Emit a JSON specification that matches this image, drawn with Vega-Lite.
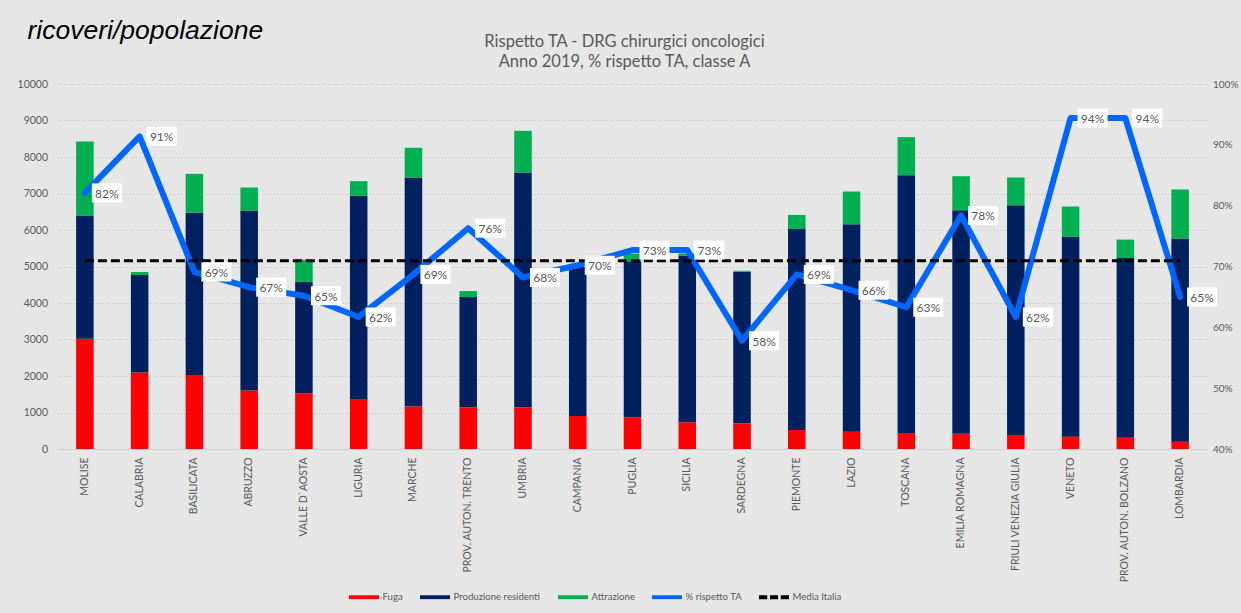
{
  "$schema": "https://vega.github.io/schema/vega-lite/v6.json",
  "width": 1150,
  "height": 365,
  "autosize": {"type": "none"},
  "padding": {"left": 57.5, "top": 84, "right": 33.5, "bottom": 164},
  "background": "#e6e6e6",
  "config": {
    "view": {"stroke": null},
    "font": "Lato",
    "axis": {"labelFont": "Lato", "labelColor": "#595959", "labelFontSize": 10.5, "ticks": false}
  },
  "datasets": {
    "regioni": [
      {"regione": "MOLISE", "Fuga": 3020, "Produzione residenti": 3375, "Attrazione": 2032, "pct": 0.821, "media": 0.7096},
      {"regione": "CALABRIA", "Fuga": 2094, "Produzione residenti": 2672, "Attrazione": 82, "pct": 0.914, "media": 0.7096},
      {"regione": "BASILICATA", "Fuga": 2030, "Produzione residenti": 4438, "Attrazione": 1070, "pct": 0.691, "media": 0.7096},
      {"regione": "ABRUZZO", "Fuga": 1600, "Produzione residenti": 4933, "Attrazione": 631, "pct": 0.666, "media": 0.7096},
      {"regione": "VALLE D`AOSTA", "Fuga": 1527, "Produzione residenti": 3046, "Attrazione": 615, "pct": 0.652, "media": 0.7096},
      {"regione": "LIGURIA", "Fuga": 1372, "Produzione residenti": 5562, "Attrazione": 403, "pct": 0.617, "media": 0.7096},
      {"regione": "MARCHE", "Fuga": 1161, "Produzione residenti": 6278, "Attrazione": 813, "pct": 0.687, "media": 0.7096},
      {"regione": "PROV. AUTON. TRENTO", "Fuga": 1142, "Produzione residenti": 3020, "Attrazione": 165, "pct": 0.763, "media": 0.7096},
      {"regione": "UMBRIA", "Fuga": 1142, "Produzione residenti": 6434, "Attrazione": 1142, "pct": 0.682, "media": 0.7096},
      {"regione": "CAMPANIA", "Fuga": 906, "Produzione residenti": 4080, "Attrazione": 30, "pct": 0.702, "media": 0.7096},
      {"regione": "PUGLIA", "Fuga": 868, "Produzione residenti": 4255, "Attrazione": 230, "pct": 0.727, "media": 0.7096},
      {"regione": "SICILIA", "Fuga": 731, "Produzione residenti": 4567, "Attrazione": 60, "pct": 0.727, "media": 0.7096},
      {"regione": "SARDEGNA", "Fuga": 703, "Produzione residenti": 4155, "Attrazione": 25, "pct": 0.578, "media": 0.7096},
      {"regione": "PIEMONTE", "Fuga": 521, "Produzione residenti": 5507, "Attrazione": 385, "pct": 0.687, "media": 0.7096},
      {"regione": "LAZIO", "Fuga": 475, "Produzione residenti": 5682, "Attrazione": 897, "pct": 0.661, "media": 0.7096},
      {"regione": "TOSCANA", "Fuga": 439, "Produzione residenti": 7063, "Attrazione": 1043, "pct": 0.633, "media": 0.7096},
      {"regione": "EMILIA ROMAGNA", "Fuga": 420, "Produzione residenti": 6121, "Attrazione": 934, "pct": 0.784, "media": 0.7096},
      {"regione": "FRIULI VENEZIA GIULIA", "Fuga": 384, "Produzione residenti": 6295, "Attrazione": 760, "pct": 0.617, "media": 0.7096},
      {"regione": "VENETO", "Fuga": 338, "Produzione residenti": 5470, "Attrazione": 835, "pct": 0.944, "media": 0.7096},
      {"regione": "PROV. AUTON. BOLZANO", "Fuga": 310, "Produzione residenti": 4922, "Attrazione": 505, "pct": 0.944, "media": 0.7096},
      {"regione": "LOMBARDIA", "Fuga": 200, "Produzione residenti": 5565, "Attrazione": 1345, "pct": 0.650, "media": 0.7096}
    ],
    "serie": [
      {"serie": "Fuga", "ordine": 1},
      {"serie": "Produzione residenti", "ordine": 2},
      {"serie": "Attrazione", "ordine": 3}
    ]
  },
  "data": {"name": "regioni"},
  "encoding": {
    "x": {
      "field": "regione",
      "type": "nominal",
      "sort": null,
      "scale": {"paddingInner": 0.68, "paddingOuter": 0.34},
      "axis": {
        "title": null,
        "labelAngle": -90,
        "labelPadding": 8,
        "labelColor": "#595959",
        "domainColor": "#cfcfcf",
        "domainWidth": 1,
        "labelFontSize": 10.5
      }
    }
  },
  "layer": [
    {
      "transform": [
        {"fold": ["Fuga", "Produzione residenti", "Attrazione"], "as": ["serie", "valore"]},
        {"lookup": "serie", "from": {"data": {"name": "serie"}, "key": "serie", "fields": ["ordine"]}}
      ],
      "mark": {"type": "bar"},
      "encoding": {
        "y": {
          "field": "valore",
          "type": "quantitative",
          "stack": "zero",
          "scale": {"domain": [0, 10000], "nice": false},
          "axis": {
            "values": [0, 1000, 2000, 3000, 4000, 5000, 6000, 7000, 8000, 9000, 10000],
            "format": "d",
            "domain": false,
            "grid": true,
            "gridColor": "#c4c4c4",
            "gridDash": [1, 2],
            "gridWidth": 1,
            "labelPadding": 10,
            "labelColor": "#595959",
            "title": "ricoveri/popolazione",
            "titleAngle": 0,
            "titleAlign": "left",
            "titleBaseline": "alphabetic",
            "titleX": -30.5,
            "titleY": -45.5,
            "titleFont": "Liberation Sans",
            "titleFontStyle": "italic",
            "titleFontWeight": "normal",
            "titleFontSize": 26.5,
            "titleColor": "#000000"
          }
        },
        "order": {"field": "ordine", "type": "quantitative", "sort": "ascending"},
        "color": {
          "field": "serie",
          "type": "nominal",
          "scale": {
            "domain": ["Fuga", "Produzione residenti", "Attrazione", "% rispetto TA", "Media Italia"],
            "range": ["#ff0000", "#002060", "#00b050", "#0066ff", "#000000"]
          },
          "legend": {
            "title": null,
            "orient": "none",
            "direction": "horizontal",
            "legendX": 291.5,
            "legendY": 498,
            "padding": 0,
            "columnPadding": 17,
            "labelFont": "Lato",
            "labelFontSize": 9.6,
            "labelColor": "#595959",
            "labelOffset": 3.5,
            "symbolSize": 900,
            "symbolStrokeWidth": 0,
            "symbolOpacity": 1,
            "symbolType": "M-1,-0.13L1,-0.13L1,0.13L-1,0.13Z",
            "encode": {
              "symbols": {
                "update": {
                  "shape": {"signal": "datum.value === 'Media Italia' ? 'M-1,-0.13L-0.45,-0.13L-0.45,0.13L-1,0.13Z M-0.27,-0.13L0.27,-0.13L0.27,0.13L-0.27,0.13Z M0.45,-0.13L1,-0.13L1,0.13L0.45,0.13Z' : 'M-1,-0.13L1,-0.13L1,0.13L-1,0.13Z'"}
                }
              }
            }
          }
        }
      }
    },
    {
      "layer": [
        {
          "mark": {"type": "line", "color": "#0066ff", "strokeWidth": 6, "strokeCap": "round", "strokeJoin": "round"},
          "encoding": {
            "y": {
              "field": "pct",
              "type": "quantitative",
              "scale": {"domain": [0.4, 1.0], "nice": false},
              "axis": {
                "orient": "right",
                "values": [0.4, 0.5, 0.6, 0.7, 0.8, 0.9, 1.0],
                "format": ".0%",
                "grid": false,
                "domain": false,
                "labelPadding": 5,
                "labelFontSize": 10,
                "labelColor": "#595959",
                "title": ["Rispetto TA - DRG chirurgici oncologici", "Anno 2019, % rispetto TA, classe A"],
                "titleAngle": 0,
                "titleAlign": "center",
                "titleBaseline": "alphabetic",
                "titleX": -583.5,
                "titleY": -37.5,
                "titleFont": "Lato",
                "titleFontWeight": "normal",
                "titleFontSize": 16.5,
                "titleLineHeight": 20,
                "titleColor": "#595959"
              }
            }
          }
        },
        {
          "mark": {"type": "line", "color": "#000000", "strokeWidth": 3, "strokeDash": [9, 4]},
          "encoding": {
            "y": {
              "field": "media",
              "type": "quantitative",
              "scale": {"domain": [0.4, 1.0], "nice": false},
              "axis": {
                "orient": "right",
                "values": [0.4, 0.5, 0.6, 0.7, 0.8, 0.9, 1.0],
                "format": ".0%",
                "grid": false,
                "domain": false,
                "labelPadding": 5,
                "labelFontSize": 10,
                "labelColor": "#595959",
                "title": ["Rispetto TA - DRG chirurgici oncologici", "Anno 2019, % rispetto TA, classe A"],
                "titleAngle": 0,
                "titleAlign": "center",
                "titleBaseline": "alphabetic",
                "titleX": -583.5,
                "titleY": -37.5,
                "titleFont": "Lato",
                "titleFontWeight": "normal",
                "titleFontSize": 16.5,
                "titleLineHeight": 20,
                "titleColor": "#595959"
              }
            }
          }
        },
        {
          "mark": {"type": "point", "filled": true, "fill": "#ffffff", "opacity": 1, "strokeWidth": 0, "size": 900, "shape": "M-1,-0.633L1,-0.633L1,0.633L-1,0.633Z", "xOffset": 22},
          "encoding": {
            "y": {
              "field": "pct",
              "type": "quantitative",
              "scale": {"domain": [0.4, 1.0], "nice": false},
              "axis": {
                "orient": "right",
                "values": [0.4, 0.5, 0.6, 0.7, 0.8, 0.9, 1.0],
                "format": ".0%",
                "grid": false,
                "domain": false,
                "labelPadding": 5,
                "labelFontSize": 10,
                "labelColor": "#595959",
                "title": ["Rispetto TA - DRG chirurgici oncologici", "Anno 2019, % rispetto TA, classe A"],
                "titleAngle": 0,
                "titleAlign": "center",
                "titleBaseline": "alphabetic",
                "titleX": -583.5,
                "titleY": -37.5,
                "titleFont": "Lato",
                "titleFontWeight": "normal",
                "titleFontSize": 16.5,
                "titleLineHeight": 20,
                "titleColor": "#595959"
              }
            }
          }
        },
        {
          "mark": {"type": "text", "xOffset": 22, "yOffset": 1, "align": "center", "baseline": "middle", "font": "Lato", "fontSize": 12, "color": "#595959"},
          "encoding": {
            "y": {
              "field": "pct",
              "type": "quantitative",
              "scale": {"domain": [0.4, 1.0], "nice": false},
              "axis": {
                "orient": "right",
                "values": [0.4, 0.5, 0.6, 0.7, 0.8, 0.9, 1.0],
                "format": ".0%",
                "grid": false,
                "domain": false,
                "labelPadding": 5,
                "labelFontSize": 10,
                "labelColor": "#595959",
                "title": ["Rispetto TA - DRG chirurgici oncologici", "Anno 2019, % rispetto TA, classe A"],
                "titleAngle": 0,
                "titleAlign": "center",
                "titleBaseline": "alphabetic",
                "titleX": -583.5,
                "titleY": -37.5,
                "titleFont": "Lato",
                "titleFontWeight": "normal",
                "titleFontSize": 16.5,
                "titleLineHeight": 20,
                "titleColor": "#595959"
              }
            },
            "text": {"field": "pct", "type": "quantitative", "format": ".0%"}
          }
        }
      ]
    }
  ],
  "resolve": {"scale": {"y": "independent"}}
}
